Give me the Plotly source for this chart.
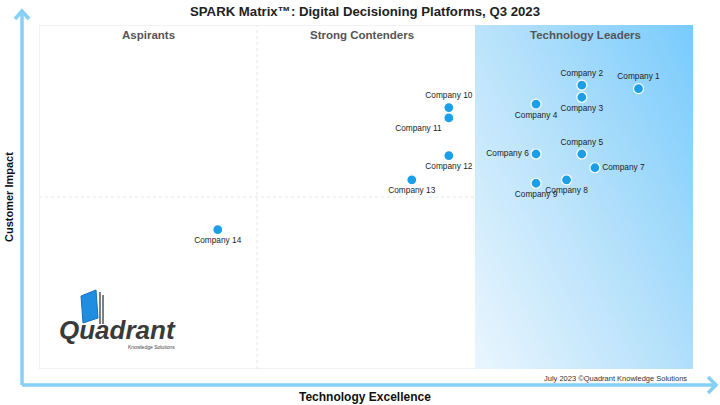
import numpy as np
import plotly.graph_objects as go

# ---- data (x: technology excellence 0-3, y: customer impact 0-2) ----
companies = ["Company 1", "Company 2", "Company 3", "Company 4", "Company 5",
             "Company 6", "Company 7", "Company 8", "Company 9", "Company 10",
             "Company 11", "Company 12", "Company 13", "Company 14"]
tech_excellence = [2.75, 2.49, 2.49, 2.28, 2.49, 2.28, 2.55, 2.42, 2.28,
                   1.88, 1.88, 1.88, 1.71, 0.82]
customer_impact = [1.63, 1.65, 1.58, 1.54, 1.25, 1.25, 1.17, 1.10, 1.08,
                   1.52, 1.46, 1.24, 1.10, 0.81]
quadrants = ["Aspirants", "Strong Contenders", "Technology Leaders"]

label_pos = ["top center", "top center", "bottom center", "bottom center",
             "top center", "middle left", "middle right", "bottom center",
             "bottom center", "top center", "bottom left", "bottom center",
             "bottom center", "bottom center"]

W, H = 720, 405
L, R, T, B = 39, 693, 25, 369          # plot box in pixels


def px(x, y):
    """pixel -> paper coords"""
    return (x - L) / (R - L), (B - y) / (B - T)


fig = go.Figure()

# gradient fill for the leaders quadrant
gx = np.linspace(2, 3, 41)
gy = np.linspace(0, 2, 41)
cx = (gx[:-1] + gx[1:]) / 2 - 2
cy = (gy[:-1] + gy[1:]) / 4
z = (cx[None, :] * 1.1 + cy[:, None] * 0.9) / 2
fig.add_trace(go.Heatmap(
    x=gx, y=gy, z=z, zsmooth="best", showscale=False, hoverinfo="skip",
    zmin=0, zmax=1,
    colorscale=[[0, "#eaf6fe"], [0.5, "#b6e1fb"], [1, "#78cbfc"]],
))

fig.add_trace(go.Scatter(
    x=tech_excellence, y=customer_impact, text=companies,
    mode="markers+text", textposition=label_pos,
    marker=dict(size=10, color="#1a9fe8", line=dict(color="white", width=1.2)),
    textfont=dict(family="Liberation Sans, Arial", size=8.3, color="#222"),
    hoverinfo="text", showlegend=False,
))

grey = "#e3e6e8"
shapes = [
    dict(type="rect", xref="x", yref="y", x0=0, x1=3, y0=0, y1=2,
         line=dict(color=grey, width=1), layer="below"),
    dict(type="line", xref="x", yref="y", x0=1, x1=1, y0=0, y1=2,
         line=dict(color=grey, width=1, dash="dot"), layer="below"),
    dict(type="line", xref="x", yref="y", x0=0, x1=2, y0=1, y1=1,
         line=dict(color=grey, width=1, dash="dot"), layer="below"),
]

# axis arrows
blue = "#86cff6"
ox, oy = px(22, 385)
tx, ty = px(22, 11)
ex, ey = px(716, 385)
shapes.append(dict(type="line", xref="paper", yref="paper", x0=ox, y0=oy, x1=tx, y1=ty,
                   line=dict(color=blue, width=3.5)))
shapes.append(dict(type="line", xref="paper", yref="paper", x0=ox, y0=oy, x1=ex, y1=ey,
                   line=dict(color=blue, width=3.5)))
a1, a2, a3 = px(15, 19), px(22, 11), px(29, 19)
shapes.append(dict(type="path", xref="paper", yref="paper",
                   path=f"M {a1[0]},{a1[1]} L {a2[0]},{a2[1]} L {a3[0]},{a3[1]}",
                   line=dict(color=blue, width=3.5)))
b1, b2, b3 = px(708, 377), px(716, 385), px(708, 393)
shapes.append(dict(type="path", xref="paper", yref="paper",
                   path=f"M {b1[0]},{b1[1]} L {b2[0]},{b2[1]} L {b3[0]},{b3[1]}",
                   line=dict(color=blue, width=3.5)))

# logo book icon
p = [px(81, 296), px(96, 290), px(98, 318), px(83, 323)]
shapes.append(dict(type="path", xref="paper", yref="paper",
                   path="M " + " L ".join(f"{a},{b}" for a, b in p) + " Z",
                   fillcolor="#1f8de0", line=dict(color="#1670c0", width=1)))
for xx in (100, 103):
    s0, s1 = px(xx, 292 + (xx - 100)), px(xx, 324)
    shapes.append(dict(type="line", xref="paper", yref="paper",
                       x0=s0[0], y0=s0[1], x1=s1[0], y1=s1[1],
                       line=dict(color="#555", width=1.5)))
fig.update_layout(shapes=shapes)


def note(x, y, text, size, color="#222", bold=False, angle=0, xanchor="center",
         family="Liberation Sans, Arial"):
    xp, yp = px(x, y)
    fig.add_annotation(xref="paper", yref="paper", x=xp, y=yp, text=f"<b>{text}</b>" if bold else text,
                       showarrow=False, textangle=angle, xanchor=xanchor, yanchor="middle",
                       font=dict(family=family, size=size, color=color))


note(365, 12, "SPARK Matrix™: Digital Decisioning Platforms, Q3 2023", 13.2, "#222", True)
for cx_, q in zip((148, 362, 585), quadrants):
    note(cx_, 35, q, 11.5, "#555", True)
note(365, 397, "Technology Excellence", 12, "#111", True)
note(9, 197, "Customer Impact", 11, "#111", True, angle=-90)
note(689, 378, "July 2023 ©Quadrant Knowledge Solutions", 7.5, "#333", xanchor="right")
note(117, 330, "<i>Quadrant</i>", 26, "#3a3a3a", True)
note(177, 347, "Knowledge Solutions", 5, "#444", xanchor="right")

fig.update_layout(
    width=W, height=H,
    margin=dict(l=L, r=W - R, t=T, b=H - B),
    paper_bgcolor="white", plot_bgcolor="white",
    xaxis=dict(range=[0, 3], visible=False, fixedrange=True),
    yaxis=dict(range=[0, 2], visible=False, fixedrange=True),
    showlegend=False,
)
fig.write_html("out.html", config={"displayModeBar": False},
               post_script="document.body.style.margin='0';document.body.style.overflow='hidden';")
